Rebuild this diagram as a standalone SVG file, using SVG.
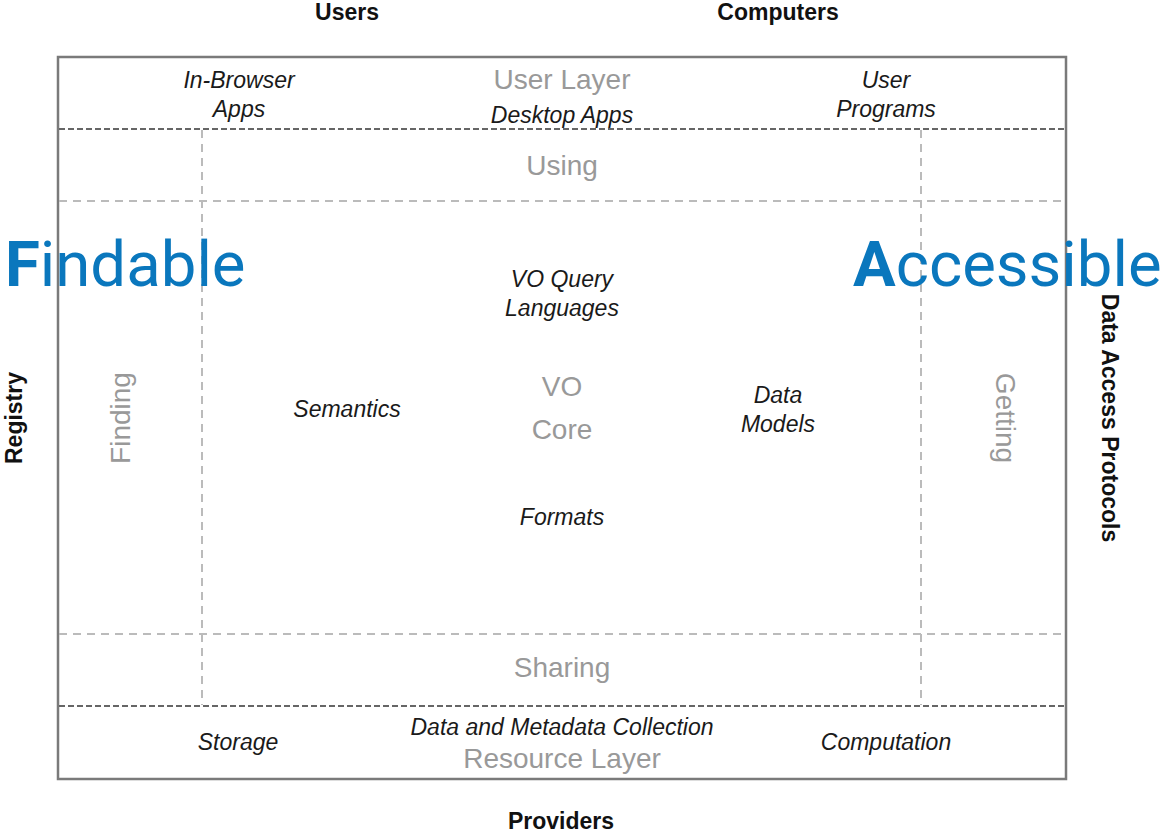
<svg xmlns="http://www.w3.org/2000/svg" width="1161" height="833" viewBox="0 0 1161 833">
<style>
.b{font-family:"Liberation Sans",Arial,sans-serif;font-weight:bold;font-size:23px;fill:#111;text-anchor:middle}
.i{font-family:"Liberation Sans",Arial,sans-serif;font-style:italic;font-size:23px;fill:#1a1a1a;text-anchor:middle}
.g{font-family:"Liberation Sans",Arial,sans-serif;font-size:28px;fill:#999;text-anchor:middle}
.f{font-family:Roboto,"Liberation Sans",sans-serif;font-size:63.5px;fill:#0a77bd}
.dk{stroke:#666;stroke-width:2;stroke-dasharray:6,3;fill:none}
.lt{stroke:#bbb;stroke-width:2;stroke-dasharray:8,6;fill:none}
</style>
<rect width="1161" height="833" fill="#fff"/>
<g id="frame">
<rect x="58" y="57" width="1008" height="722" fill="none" stroke="#7a7a7a" stroke-width="2.5"/>
</g>
<g id="connectors">
<line class="lt" x1="59" y1="201" x2="1065" y2="201"/>
<line class="lt" x1="59" y1="634" x2="1065" y2="634"/>
<line class="lt" x1="202" y1="130" x2="202" y2="705"/>
<line class="lt" x1="921" y1="130" x2="921" y2="705"/>
<line class="dk" x1="59" y1="129" x2="1065" y2="129"/>
<line class="dk" x1="59" y1="706" x2="1065" y2="706"/>
</g>
<g id="outer-labels">
<text class="b" x="347" y="20">Users</text>
<text class="b" x="778" y="20">Computers</text>
<text class="b" x="561" y="829">Providers</text>
<text class="b" x="22" y="418" transform="rotate(-90 22 418)">Registry</text>
<text class="b" x="1102" y="418" transform="rotate(90 1102 418)">Data Access Protocols</text>
</g>
<g id="user-layer">
<text class="g" x="562" y="89">User Layer</text>
<text class="i" x="239" y="88">In-Browser</text>
<text class="i" x="239" y="117">Apps</text>
<text class="i" x="562" y="123">Desktop Apps</text>
<text class="i" x="886" y="88">User</text>
<text class="i" x="886" y="117">Programs</text>
</g>
<g id="using"><text class="g" x="562" y="175">Using</text></g>
<g id="findable"><text class="f" x="5" y="286"><tspan font-weight="bold">F</tspan>indable</text></g>
<g id="accessible"><text class="f" x="853" y="286"><tspan font-weight="bold">A</tspan>ccessible</text></g>
<g id="finding"><text class="g" x="130" y="418" transform="rotate(-90 130 418)">Finding</text></g>
<g id="getting"><text class="g" x="996" y="418" transform="rotate(90 996 418)">Getting</text></g>
<g id="vo-core">
<text class="i" x="562" y="287">VO Query</text>
<text class="i" x="562" y="316">Languages</text>
<text class="g" x="562" y="396">VO</text>
<text class="g" x="562" y="439">Core</text>
<text class="i" x="347" y="417">Semantics</text>
<text class="i" x="778" y="403">Data</text>
<text class="i" x="778" y="432">Models</text>
<text class="i" x="562" y="525">Formats</text>
</g>
<g id="sharing"><text class="g" x="562" y="677">Sharing</text></g>
<g id="resource-layer">
<text class="i" x="238" y="750">Storage</text>
<text class="i" x="562" y="735">Data and Metadata Collection</text>
<text class="g" x="562" y="768">Resource Layer</text>
<text class="i" x="886" y="750">Computation</text>
</g>
</svg>
